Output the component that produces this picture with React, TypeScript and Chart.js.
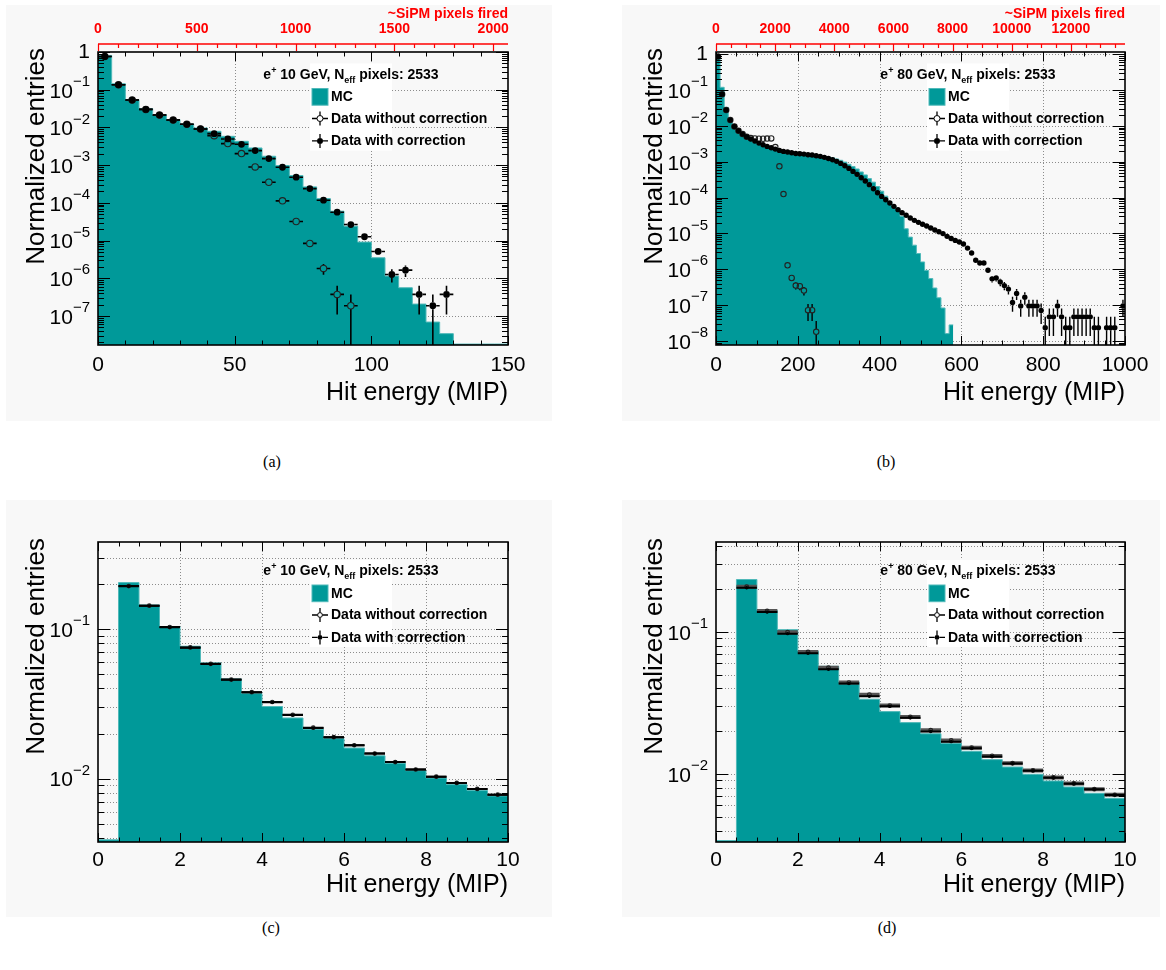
import React, { useEffect, useRef } from "react";
import { Chart, registerables } from "chart.js";

Chart.register(...registerables);

const FONT = "'Liberation Sans', Arial, Helvetica, sans-serif";
const SERIF = "'Liberation Serif', 'Times New Roman', serif";
const TEAL = "rgb(0,153,153)";
const TEAL_EDGE = "rgb(80,185,185)";
const PANEL_BG = "#f8f8f8";
const GRID = "#8c8c8c";
const RED = "#ff0000";

// ================= Panel (a): e+ 10 GeV, 0-150 MIP, 5 MIP bins =================
const A_BIN_WIDTH = 5;
const A_MC = [0.81, 0.144, 0.0543, 0.0314, 0.0218, 0.0161, 0.0123, 0.00966, 0.00788, 0.00581,
  0.00428, 0.00285, 0.00172, 0.000972, 0.000529, 0.000265, 0.00013, 6.0e-5, 2.4e-5, 9.1e-6,
  3.5e-6, 1.14e-6, 5.6e-7, 2.07e-7, 6.9e-8, 3.4e-8, 1.8e-8, 1.8e-8, 1.8e-8, 1.8e-8];
const A_DATA_RAW = [0.76, 0.135, 0.0532, 0.0301, 0.0213, 0.0157, 0.0121, 0.0091, 0.00605, 0.00372,
  0.00202, 0.000895, 0.000352, 0.000113, 3.2e-5, 8.4e-6, 1.82e-6, 3.73e-7, 1.87e-7, null,
  null, null, null, null, null, null, null, null, null, null];
const A_DATA_CORR = [0.76, 0.135, 0.0532, 0.0301, 0.0213, 0.0157, 0.0121, 0.0091, 0.00684, 0.00494,
  0.00357, 0.00243, 0.00149, 0.000879, 0.000478, 0.000239, 0.0001175, 5.65e-5, 2.66e-5, 1.26e-5,
  5.14e-6, 1.26e-6, 1.64e-6, 3.73e-7, 1.87e-7, 3.73e-7, null, null, null, null];
const A_ENTRY_WEIGHT = 1.87e-7;
const A_X_LABELS = [0, 50, 100, 150];
const A_Y_DECADES = [0, -1, -2, -3, -4, -5, -6, -7];
const A_TOP_LABELS = [0, 500, 1000, 1500, 2000];
const A_TOP_MAX = 2075;

// ================= Panel (b): e+ 80 GeV, 0-1000 MIP, 10 MIP bins =================
const B_BIN_WIDTH = 10;
const B_MC = [0.93, 0.12, 0.033, 0.0155, 0.0091, 0.0068, 0.0055, 0.0046, 0.004, 0.00347,
  0.00309, 0.00275, 0.00251, 0.00229, 0.00209, 0.00195, 0.00182, 0.00174, 0.0017, 0.00162,
  0.00158, 0.00155, 0.00151, 0.00148, 0.00145, 0.00141, 0.00138, 0.00135, 0.00129, 0.0012,
  0.0011, 0.00098, 0.00085, 0.00074, 0.00063, 0.00052, 0.00043, 0.00034, 0.00027, 0.000204,
  0.000151, 0.00011, 7.8e-5, 5.8e-5, 4.6e-5, 3.0e-5, 1.35e-5, 7.9e-6, 4.7e-6, 2.75e-6,
  1.6e-6, 9.3e-7, 5.5e-7, 3.0e-7, 1.6e-7, 8.3e-8, 1.6e-8, 2.8e-8];
const B_DATA_RAW = [0.87, 0.0773, 0.0277, 0.0146, 0.0097, 0.00735, 0.00593, 0.005, 0.00459, 0.00449,
  0.0044, 0.0044, 0.00445, 0.0045, 0.00258, 0.000745, 0.000126, 1.29e-6, 5.7e-7, 3.5e-7,
  3.36e-7, 2.54e-7, 7.2e-8, 7.2e-8, 1.8e-8];
const B_DATA_CORR = [0.87, 0.0773, 0.0277, 0.0146, 0.0097, 0.00735, 0.00593, 0.005, 0.00431, 0.00379,
  0.00333, 0.00299, 0.00269, 0.00247, 0.00226, 0.00208, 0.00195, 0.00187, 0.00179, 0.00171,
  0.00168, 0.00164, 0.00157, 0.00154, 0.00148, 0.00142, 0.00133, 0.00124, 0.00114, 0.00103,
  0.000902, 0.000776, 0.000654, 0.00054, 0.000446, 0.00036, 0.00029, 0.00023, 0.000177, 0.000137,
  0.000108, 8.75e-5, 7.06e-5, 5.71e-5, 4.61e-5, 3.8e-5, 3.21e-5, 2.7e-5, 2.32e-5, 2.04e-5,
  1.8e-5, 1.61e-5, 1.42e-5, 1.25e-5, 1.12e-5, 9.9e-6, 8.3e-6, 7.2e-6, 6.4e-6, 5.8e-6,
  5.1e-6, 3.9e-6, 2.85e-6, 1.78e-6, 1.5e-6, 1.5e-6, 9.4e-7, 5.4e-7, 5.7e-7, 4.4e-7,
  3.5e-7, 2.8e-7, 1.18e-7, 2.1e-7, 9.4e-8, 1.65e-7, 9.4e-8, 9.4e-8, 9.4e-8, 7.05e-8,
  2.35e-8, 4.7e-8, 4.7e-8, 9.4e-8, 4.7e-8, 2.35e-8, 2.35e-8, 4.7e-8, 4.7e-8, 4.7e-8,
  4.7e-8, 4.7e-8, 2.35e-8, 2.35e-8, null, 2.35e-8, 2.35e-8, 2.35e-8, null, 9.4e-8];
const B_RAW_WEIGHT = 1.8e-8;
const B_CORR_WEIGHT = 2.35e-8;
const B_X_LABELS = [0, 200, 400, 600, 800, 1000];
const B_Y_DECADES = [0, -1, -2, -3, -4, -5, -6, -7, -8];
const B_TOP_LABELS = [0, 2000, 4000, 6000, 8000, 10000, 12000];
const B_TOP_MAX = 13830;

// ================= Panel (c): e+ 10 GeV, 0-10 MIP, 0.5 MIP bins =================
const CD_BIN_WIDTH = 0.5;
const C_MC = [0.0039, 0.204, 0.1445, 0.1037, 0.0766, 0.0593, 0.0463, 0.037, 0.0303, 0.0254,
  0.0214, 0.0185, 0.016, 0.0142, 0.01265, 0.0113, 0.01009, 0.00912, 0.00832, 0.00766];
const C_DATA_RAW = [null, 0.1935, 0.143, 0.1029, 0.0752, 0.0585, 0.0459, 0.0378, 0.0325, 0.0267,
  0.0219, 0.0189, 0.0167, 0.0147, 0.0129, 0.0115, 0.0103, 0.00935, 0.00853, 0.00781];
const C_DATA_CORR = [null, 0.1927, 0.1426, 0.1026, 0.075, 0.0583, 0.0458, 0.0377, 0.0324, 0.0266,
  0.0218, 0.0189, 0.0167, 0.0147, 0.0129, 0.0115, 0.0103, 0.00935, 0.00853, 0.00781];

// ================= Panel (d): e+ 80 GeV, 0-10 MIP, 0.5 MIP bins =================
const D_MC = [0.0034, 0.234, 0.142, 0.1038, 0.0735, 0.0573, 0.0445, 0.0336, 0.0275, 0.023,
  0.0192, 0.0164, 0.01445, 0.01262, 0.0112, 0.00995, 0.00893, 0.0081, 0.00731, 0.00674];
const D_DATA_RAW = [null, 0.208, 0.1405, 0.0995, 0.0722, 0.056, 0.044, 0.0362, 0.0303, 0.0252,
  0.0203, 0.0172, 0.0153, 0.0134, 0.0119, 0.0106, 0.00945, 0.00857, 0.00782, 0.00713];
const D_DATA_CORR = [null, 0.205, 0.1383, 0.0973, 0.0708, 0.0546, 0.0433, 0.0352, 0.03, 0.0249,
  0.0199, 0.0169, 0.0152, 0.0133, 0.01183, 0.01055, 0.00942, 0.00855, 0.0078, 0.00711];
const CD_ENTRY_WEIGHT = 2e-7;
const CD_X_LABELS = [0, 2, 4, 6, 8, 10];
const CD_Y_DECADES = [-1, -2];

const LEGEND_LABELS = ["MC", "Data without correction", "Data with correction"];
const X_TITLE = "Hit energy (MIP)";
const Y_TITLE = "Normalized entries";
const TOP_TITLE = "~SiPM pixels fired";
const NEFF = "2533";

type Vals = (number | null)[];

interface Spec {
  box: { left: number; top: number; width: number; height: number };
  area: { l: number; t: number; r: number; b: number };
  binWidth: number;
  mc: number[];
  raw: Vals;
  corr: Vals;
  rawW: number;
  corrW: number;
  xMax: number;
  yMin: number;
  yMax: number;
  xLabels: number[];
  xMinor: number;
  yDecades: number[];
  yGridMinor: boolean;
  top?: { max: number; labels: number[]; minor: number };
  energy: string;
  tickDy: number;
  titleDy: number;
  legendDy: number;
  mR: number;
  rawR: number;
  barW: number;
  rawBarW: number;
  rawBarColor: string;
  gap: boolean;
  legendMR: number;
}

const SPECS: Spec[] = [
  {
    box: { left: 6, top: 5, width: 546, height: 416 },
    area: { l: 98, t: 52, r: 508, b: 345 },
    binWidth: A_BIN_WIDTH, mc: A_MC, raw: A_DATA_RAW, corr: A_DATA_CORR,
    rawW: A_ENTRY_WEIGHT, corrW: A_ENTRY_WEIGHT,
    xMax: 150, yMin: 1.7e-8, yMax: 1.0,
    xLabels: A_X_LABELS, xMinor: 10, yDecades: A_Y_DECADES, yGridMinor: false,
    top: { max: A_TOP_MAX, labels: A_TOP_LABELS, minor: 100 },
    energy: "10", tickDy: 20, titleDy: 48, legendDy: 26.5,
    mR: 3.4, rawR: 3.2, barW: 1.6, rawBarW: 1.6, rawBarColor: "#000", gap: true, legendMR: 3,
  },
  {
    box: { left: 622, top: 5, width: 538, height: 416 },
    area: { l: 716, t: 52, r: 1125, b: 345 },
    binWidth: B_BIN_WIDTH, mc: B_MC, raw: B_DATA_RAW, corr: B_DATA_CORR,
    rawW: B_RAW_WEIGHT, corrW: B_CORR_WEIGHT,
    xMax: 1000, yMin: 7.7e-9, yMax: 1.16,
    xLabels: B_X_LABELS, xMinor: 50, yDecades: B_Y_DECADES, yGridMinor: false,
    top: { max: B_TOP_MAX, labels: B_TOP_LABELS, minor: 500 },
    energy: "80", tickDy: 20, titleDy: 48, legendDy: 26.5,
    mR: 2.7, rawR: 2.7, barW: 1.4, rawBarW: 1.4, rawBarColor: "#000", gap: true, legendMR: 3,
  },
  {
    box: { left: 6, top: 500, width: 546, height: 417 },
    area: { l: 98, t: 542, r: 508, b: 842 },
    binWidth: CD_BIN_WIDTH, mc: C_MC, raw: C_DATA_RAW, corr: C_DATA_CORR,
    rawW: CD_ENTRY_WEIGHT, corrW: CD_ENTRY_WEIGHT,
    xMax: 10, yMin: 0.00377, yMax: 0.381,
    xLabels: CD_X_LABELS, xMinor: 0.5, yDecades: CD_Y_DECADES, yGridMinor: true,
    energy: "10", tickDy: 18, titleDy: 43, legendDy: 33,
    mR: 1.7, rawR: 1.8, barW: 2, rawBarW: 2, rawBarColor: "#000", gap: false, legendMR: 2.4,
  },
  {
    box: { left: 622, top: 500, width: 538, height: 417 },
    area: { l: 716, t: 542, r: 1125, b: 842 },
    binWidth: CD_BIN_WIDTH, mc: D_MC, raw: D_DATA_RAW, corr: D_DATA_CORR,
    rawW: CD_ENTRY_WEIGHT, corrW: CD_ENTRY_WEIGHT,
    xMax: 10, yMin: 0.00332, yMax: 0.43,
    xLabels: CD_X_LABELS, xMinor: 0.5, yDecades: CD_Y_DECADES, yGridMinor: true,
    energy: "80", tickDy: 18, titleDy: 43, legendDy: 33,
    mR: 1.7, rawR: 1.9, barW: 2, rawBarW: 4, rawBarColor: "#555", gap: false, legendMR: 2.4,
  },
];

const CAPTIONS = [
  { text: "(a)", x: 272, y: 462 },
  { text: "(b)", x: 886, y: 462 },
  { text: "(c)", x: 271, y: 928 },
  { text: "(d)", x: 887, y: 928 },
];

function drawPow(ctx: CanvasRenderingContext2D, exp: number, xr: number, y: number) {
  ctx.fillStyle = "#000";
  ctx.textBaseline = "middle";
  ctx.textAlign = "right";
  if (exp === 0) {
    ctx.font = `21px ${FONT}`;
    ctx.fillText("1", xr, y);
    return;
  }
  const sup = "\u2212" + String(-exp);
  ctx.font = `15px ${FONT}`;
  const ws = ctx.measureText(sup).width;
  ctx.fillText(sup, xr, y - 8);
  ctx.font = `21px ${FONT}`;
  ctx.fillText("10", xr - ws, y + 2);
}

function drawHeader(ctx: CanvasRenderingContext2D, cx: number, base: number, energy: string) {
  const big = `bold 14px ${FONT}`;
  const small = `bold 9px ${FONT}`;
  const parts = [
    { t: "e", f: big, dy: 0 },
    { t: "+", f: small, dy: -6 },
    { t: ` ${energy} GeV, N`, f: big, dy: 0 },
    { t: "eff", f: small, dy: 4 },
    { t: ` pixels: ${NEFF}`, f: big, dy: 0 },
  ];
  let total = 0;
  for (const p of parts) {
    ctx.font = p.f;
    total += ctx.measureText(p.t).width;
  }
  let x = cx - total / 2;
  ctx.fillStyle = "#000";
  ctx.textAlign = "left";
  ctx.textBaseline = "alphabetic";
  for (const p of parts) {
    ctx.font = p.f;
    ctx.fillText(p.t, x, base + p.dy);
    x += ctx.measureText(p.t).width;
  }
}

function makePlugin(spec: Spec) {
  return {
    id: "rootStyle",
    beforeDraw(chart: any) {
      const ctx = chart.ctx as CanvasRenderingContext2D;
      ctx.save();
      ctx.fillStyle = PANEL_BG;
      ctx.fillRect(0, 0, chart.width, chart.height);
      ctx.restore();
    },
    beforeDatasetsDraw(chart: any) {
      const ctx = chart.ctx as CanvasRenderingContext2D;
      const a = chart.chartArea;
      const xs = chart.scales.x;
      const ys = chart.scales.y;
      ctx.save();
      ctx.strokeStyle = GRID;
      ctx.lineWidth = 1;
      ctx.setLineDash([1, 2]);
      ctx.beginPath();
      for (const v of spec.xLabels) {
        if (v <= 0 || v >= spec.xMax) continue;
        const px = Math.round(xs.getPixelForValue(v)) + 0.5;
        ctx.moveTo(px, a.top);
        ctx.lineTo(px, a.bottom);
      }
      const e0 = Math.floor(Math.log10(spec.yMin));
      const e1 = Math.ceil(Math.log10(spec.yMax));
      for (let e = e0; e <= e1; e++) {
        for (let m = 1; m <= 9; m++) {
          if (m > 1 && !spec.yGridMinor) continue;
          const v = m * Math.pow(10, e);
          if (v <= spec.yMin || v >= spec.yMax * 0.999) continue;
          const py = Math.round(ys.getPixelForValue(v)) + 0.5;
          ctx.moveTo(a.left, py);
          ctx.lineTo(a.right, py);
        }
      }
      ctx.stroke();
      ctx.restore();
    },
    beforeDatasetDraw(chart: any, args: any) {
      const ds = chart.data.datasets[args.index];
      const info = ds.errInfo;
      if (!info) return;
      const ctx = chart.ctx as CanvasRenderingContext2D;
      const a = chart.chartArea;
      const xs = chart.scales.x;
      const ys = chart.scales.y;
      ctx.save();
      ctx.beginPath();
      ctx.rect(a.left, a.top, a.right - a.left, a.bottom - a.top);
      ctx.clip();
      ctx.strokeStyle = info.color;
      ctx.lineWidth = info.width;
      ctx.beginPath();
      for (const p of ds.data) {
        const px = xs.getPixelForValue(p.x);
        const py = ys.getPixelForValue(p.y);
        const xl = xs.getPixelForValue(p.x - info.half);
        const xr = xs.getPixelForValue(p.x + info.half);
        const err = Math.sqrt(p.y * info.weight);
        const yt = ys.getPixelForValue(p.y + err);
        const yb = p.y - err > spec.yMin ? ys.getPixelForValue(p.y - err) : a.bottom + 2;
        const g = info.gap;
        if (xl < px - g) { ctx.moveTo(xl, py); ctx.lineTo(px - g, py); }
        if (xr > px + g) { ctx.moveTo(px + g, py); ctx.lineTo(xr, py); }
        if (yt < py - g) { ctx.moveTo(px, py - g); ctx.lineTo(px, yt); }
        if (yb > py + g) { ctx.moveTo(px, py + g); ctx.lineTo(px, yb); }
      }
      ctx.stroke();
      ctx.restore();
    },
    afterDatasetsDraw(chart: any) {
      const ctx = chart.ctx as CanvasRenderingContext2D;
      const a = chart.chartArea;
      const xs = chart.scales.x;
      const ys = chart.scales.y;
      ctx.save();
      ctx.setLineDash([]);
      // ticks
      ctx.strokeStyle = "#000";
      ctx.lineWidth = 1;
      ctx.beginPath();
      const nx = Math.round(spec.xMax / spec.xMinor);
      for (let i = 0; i <= nx; i++) {
        const v = i * spec.xMinor;
        const major = spec.xLabels.some((l) => Math.abs(l - v) < 1e-9);
        const len = major ? 9 : 4.5;
        const px = Math.round(xs.getPixelForValue(v)) + 0.5;
        ctx.moveTo(px, a.bottom);
        ctx.lineTo(px, a.bottom - len);
        ctx.moveTo(px, a.top);
        ctx.lineTo(px, a.top + len);
      }
      const e0 = Math.floor(Math.log10(spec.yMin));
      const e1 = Math.ceil(Math.log10(spec.yMax));
      for (let e = e0; e <= e1; e++) {
        for (let m = 1; m <= 9; m++) {
          const v = m * Math.pow(10, e);
          if (v < spec.yMin || v > spec.yMax) continue;
          const len = m === 1 ? 12 : 6;
          const py = Math.round(ys.getPixelForValue(v)) + 0.5;
          ctx.moveTo(a.left, py);
          ctx.lineTo(a.left + len, py);
          ctx.moveTo(a.right, py);
          ctx.lineTo(a.right - len, py);
        }
      }
      ctx.stroke();
      // frame
      ctx.lineWidth = 1.6;
      ctx.strokeRect(a.left, a.top, a.right - a.left, a.bottom - a.top);

      // x labels
      ctx.fillStyle = "#000";
      ctx.font = `21px ${FONT}`;
      ctx.textAlign = "center";
      ctx.textBaseline = "middle";
      for (const v of spec.xLabels) {
        ctx.fillText(String(v), xs.getPixelForValue(v), a.bottom + spec.tickDy);
      }
      // y labels
      for (const e of spec.yDecades) {
        drawPow(ctx, e, a.left - 8, ys.getPixelForValue(Math.pow(10, e)));
      }
      // titles
      ctx.fillStyle = "#000";
      ctx.font = `25px ${FONT}`;
      ctx.textAlign = "right";
      ctx.textBaseline = "middle";
      ctx.fillText(X_TITLE, a.right, a.bottom + spec.titleDy);
      ctx.save();
      ctx.translate(a.left - 61, a.top - 4);
      ctx.rotate(-Math.PI / 2);
      ctx.font = `26px ${FONT}`;
      ctx.textAlign = "right";
      ctx.textBaseline = "middle";
      ctx.fillText(Y_TITLE, 0, 0);
      ctx.restore();

      // top red axis
      if (spec.top) {
        const x2 = chart.scales.x2;
        const ry = a.top - 8;
        ctx.strokeStyle = RED;
        ctx.lineWidth = 1.6;
        ctx.beginPath();
        ctx.moveTo(a.left, ry);
        ctx.lineTo(a.right, ry);
        ctx.stroke();
        ctx.lineWidth = 1.2;
        ctx.beginPath();
        const nt = Math.floor(spec.top.max / spec.top.minor);
        for (let i = 0; i <= nt; i++) {
          const v = i * spec.top.minor;
          const major = spec.top.labels.includes(v);
          const px = Math.round(x2.getPixelForValue(v)) + 0.5;
          ctx.moveTo(px, ry);
          ctx.lineTo(px, ry + (major ? 7 : 4));
        }
        ctx.stroke();
        ctx.fillStyle = RED;
        ctx.font = `bold 14px ${FONT}`;
        ctx.textAlign = "center";
        ctx.textBaseline = "middle";
        for (const v of spec.top.labels) {
          ctx.fillText(String(v), x2.getPixelForValue(v), ry - 15);
        }
        ctx.textAlign = "right";
        ctx.fillText(TOP_TITLE, a.right, ry - 30);
      }

      // legend
      const R = a.right;
      const hb = a.top + spec.legendDy;
      ctx.fillStyle = "#ffffff";
      ctx.fillRect(R - 198, hb - 15, 82, 87);
      drawHeader(ctx, R - 157, hb, spec.energy);
      ctx.fillStyle = TEAL;
      ctx.fillRect(R - 196, hb + 10, 16, 16.7);
      ctx.strokeStyle = TEAL_EDGE;
      ctx.lineWidth = 1;
      ctx.strokeRect(R - 196, hb + 10, 16, 16.7);
      const rows = [hb + 18.3, hb + 40, hb + 62.4];
      ctx.fillStyle = "#000";
      ctx.font = `bold 14px ${FONT}`;
      ctx.textAlign = "left";
      ctx.textBaseline = "middle";
      for (let i = 0; i < 3; i++) ctx.fillText(LEGEND_LABELS[i], R - 177, rows[i] + 0.5);
      const mx = R - 188;
      const r = spec.legendMR;
      for (let i = 1; i < 3; i++) {
        const my = rows[i];
        ctx.strokeStyle = "#000";
        ctx.lineWidth = 1.3;
        ctx.beginPath();
        ctx.moveTo(mx - 8, my);
        ctx.lineTo(mx - r, my);
        ctx.moveTo(mx + r, my);
        ctx.lineTo(mx + 8, my);
        ctx.moveTo(mx, my - 7);
        ctx.lineTo(mx, my - r);
        ctx.moveTo(mx, my + r);
        ctx.lineTo(mx, my + 7);
        ctx.stroke();
        ctx.beginPath();
        ctx.arc(mx, my, r, 0, Math.PI * 2);
        if (i === 2) {
          ctx.fillStyle = "#000";
          ctx.fill();
        } else {
          ctx.fillStyle = "#fff";
          ctx.fill();
          ctx.lineWidth = 1;
          ctx.stroke();
        }
      }
      ctx.restore();
    },
  };
}

function Panel({ spec }: { spec: Spec }) {
  const ref = useRef<HTMLCanvasElement | null>(null);
  useEffect(() => {
    if (!ref.current) return;
    const bw = spec.binWidth;
    const mcPts = spec.mc.map((v, i) => ({ x: i * bw, y: v }));
    mcPts.push({ x: spec.mc.length * bw, y: spec.mc[spec.mc.length - 1] });
    const toPts = (vals: Vals) =>
      vals
        .map((v, i) => (v == null ? null : { x: (i + 0.5) * bw, y: v }))
        .filter((p) => p !== null) as { x: number; y: number }[];
    const pad = {
      left: spec.area.l - spec.box.left,
      top: spec.area.t - spec.box.top,
      right: spec.box.left + spec.box.width - spec.area.r,
      bottom: spec.box.top + spec.box.height - spec.area.b,
    };
    const scales: any = {
      x: { type: "linear", min: 0, max: spec.xMax, display: false },
      y: { type: "logarithmic", min: spec.yMin, max: spec.yMax, display: false },
    };
    if (spec.top) {
      scales.x2 = { type: "linear", axis: "x", position: "top", min: 0, max: spec.top.max, display: false };
    }
    const chart = new Chart(ref.current, {
      type: "scatter",
      data: {
        datasets: [
          {
            type: "line",
            label: "MC",
            data: mcPts,
            stepped: true,
            fill: "start",
            backgroundColor: TEAL,
            borderColor: TEAL_EDGE,
            borderWidth: 1,
            pointRadius: 0,
            order: 3,
          } as any,
          {
            type: "scatter",
            label: "Data without correction",
            data: toPts(spec.raw),
            pointRadius: spec.rawR,
            pointBackgroundColor: "rgba(0,0,0,0)",
            pointBorderColor: "#222",
            pointBorderWidth: 1.1,
            order: 2,
            errInfo: { half: bw / 2, weight: spec.rawW, color: spec.rawBarColor, width: spec.rawBarW, gap: spec.gap ? spec.rawR : 0 },
          } as any,
          {
            type: "scatter",
            label: "Data with correction",
            data: toPts(spec.corr),
            pointRadius: spec.mR,
            pointBackgroundColor: "#000",
            pointBorderColor: "#000",
            pointBorderWidth: 0,
            order: 1,
            errInfo: { half: bw / 2, weight: spec.corrW, color: "#000", width: spec.barW, gap: spec.gap ? spec.mR : 0 },
          } as any,
        ],
      },
      options: {
        responsive: false,
        maintainAspectRatio: false,
        animation: false,
        events: [],
        layout: { padding: pad },
        plugins: { legend: { display: false }, tooltip: { enabled: false } },
        scales,
      } as any,
      plugins: [makePlugin(spec)],
    });
    return () => chart.destroy();
  }, [spec]);
  return (
    <canvas
      ref={ref}
      width={spec.box.width}
      height={spec.box.height}
      style={{
        position: "absolute",
        left: spec.box.left,
        top: spec.box.top,
        width: spec.box.width,
        height: spec.box.height,
      }}
    />
  );
}

export default function App() {
  return (
    <div style={{ position: "absolute", left: 0, top: 0, width: 1166, height: 970, background: "#fff" }}>
      {SPECS.map((s, i) => (
        <Panel key={i} spec={s} />
      ))}
      {CAPTIONS.map((c) => (
        <div
          key={c.text}
          style={{
            position: "absolute",
            left: c.x - 30,
            top: c.y - 10,
            width: 60,
            height: 20,
            lineHeight: "20px",
            textAlign: "center",
            fontFamily: SERIF,
            fontSize: 16,
            color: "#000",
          }}
        >
          {c.text}
        </div>
      ))}
    </div>
  );
}
